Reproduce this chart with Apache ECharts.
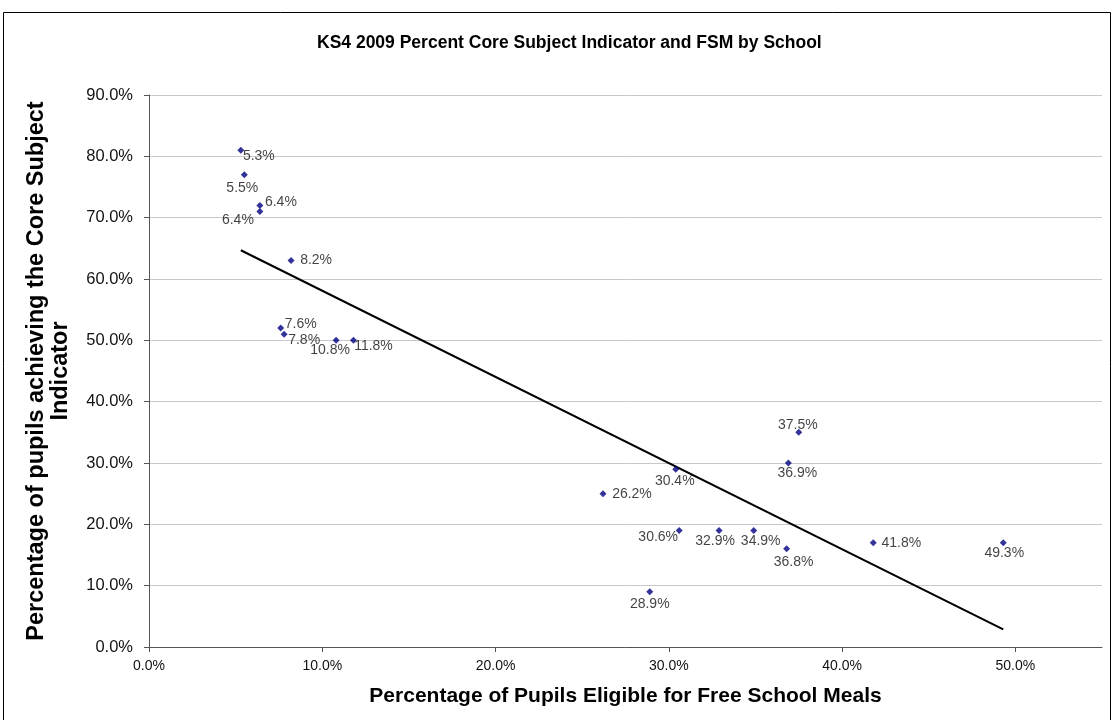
<!DOCTYPE html>
<html>
<head>
<meta charset="utf-8">
<title>KS4 2009 Percent Core Subject Indicator and FSM by School</title>
<script src="https://cdn.jsdelivr.net/npm/echarts@6/dist/echarts.min.js"></script>
<style>
  html, body { margin: 0; padding: 0; background: #fff; }
  #chart { width: 1117px; height: 720px; }
</style>
</head>
<body>
<div id="chart"></div>
<script>
// Percentage of pupils eligible for free school meals (x) per school
const fsmPct = [5.3, 5.5, 6.4, 6.4, 8.2, 7.6, 7.8, 10.8, 11.8, 37.5,
                36.9, 30.4, 26.2, 30.6, 32.9, 34.9, 36.8, 28.9, 41.8, 49.3];
// Percentage of pupils achieving the Core Subject Indicator (y) per school
const csiPct = [81, 77, 72, 71, 63, 52, 51, 50, 50, 35,
                30, 29, 25, 19, 19, 19, 16, 9, 17, 17];
// Where each school's FSM label sits, relative to its marker [dx, dy]
const labelNudge = [[18, 6], [-2, 13], [21, -3], [-22, 9], [25, 0], [20, -4], [20, 6], [-6, 10], [20, 6], [-1, -7],
                    [9, 10], [-1, 12], [29, 0], [-21, 7], [-4, 11], [7, 11], [7, 13], [0, 12], [28, 0], [1, 10]];

const xTitle = 'Percentage of Pupils Eligible for Free School Meals';
const yTitle = 'Percentage of pupils achieving the Core Subject\nIndicator';
const chartTitle = 'KS4 2009 Percent Core Subject Indicator and FSM by School';

// Least-squares linear trend through the school points
function linearFit(xs, ys) {
  const n = xs.length;
  const mx = xs.reduce((a, b) => a + b, 0) / n;
  const my = ys.reduce((a, b) => a + b, 0) / n;
  let sxy = 0, sxx = 0;
  for (let i = 0; i < n; i++) {
    sxy += (xs[i] - mx) * (ys[i] - my);
    sxx += (xs[i] - mx) * (xs[i] - mx);
  }
  const slope = sxy / sxx;
  return { slope, intercept: my - slope * mx };
}
const fit = linearFit(fsmPct, csiPct);
const xLo = Math.min(...fsmPct), xHi = Math.max(...fsmPct);
const trend = [[xLo, fit.intercept + fit.slope * xLo], [xHi, fit.intercept + fit.slope * xHi]];

const points = fsmPct.map((x, i) => [x, csiPct[i]]);

const pct = v => v.toFixed(1) + '%';
const FONT = 'Liberation Sans, Arial, sans-serif';

const chart = echarts.init(document.getElementById('chart'), null, { renderer: 'canvas' });
chart.setOption({
  animation: false,
  backgroundColor: '#ffffff',
  title: {
    text: chartTitle,
    left: 312,
    top: 29,
    textStyle: { fontFamily: FONT, fontSize: 17.5, fontWeight: 'bold', color: '#000' }
  },
  grid: { left: 149, right: 15, top: 95, bottom: 73, containLabel: false },
  xAxis: {
    type: 'value',
    min: 0, max: 55, interval: 10,
    name: xTitle,
    nameLocation: 'middle',
    nameGap: 39,
    nameTextStyle: { fontFamily: FONT, fontSize: 21, fontWeight: 'bold', color: '#000' },
    axisLine: { lineStyle: { color: '#555', width: 1 } },
    axisTick: { show: true, inside: false, length: 5, lineStyle: { color: '#555' } },
    axisLabel: { fontFamily: FONT, fontSize: 14, color: '#111', margin: 12, formatter: pct, showMaxLabel: false },
    splitLine: { show: false }
  },
  yAxis: {
    type: 'value',
    min: 0, max: 90, interval: 10,
    name: yTitle,
    nameLocation: 'middle',
    nameRotate: 90,
    nameGap: 76,
    nameTextStyle: { fontFamily: FONT, fontSize: 23.5, fontWeight: 'bold', color: '#000', lineHeight: 24, align: 'center' },
    axisLine: { show: true, lineStyle: { color: '#555', width: 1 } },
    axisTick: { show: true, inside: false, length: 5, lineStyle: { color: '#555' } },
    axisLabel: { fontFamily: FONT, fontSize: 16.5, color: '#111', margin: 16, formatter: pct },
    splitLine: { show: true, lineStyle: { color: '#c8c8c8', width: 1 } }
  },
  graphic: [{
    type: 'rect',
    shape: { x: 3.5, y: 12.5, width: 1107, height: 720 },
    style: { fill: null, stroke: '#000', lineWidth: 1 },
    silent: true
  }],
  series: [
    {
      type: 'line',
      data: trend,
      showSymbol: false,
      symbol: 'none',
      lineStyle: { color: '#000', width: 2 },
      z: 2,
      silent: true
    },
    {
      type: 'scatter',
      data: points,
      symbol: 'diamond',
      symbolSize: 7,
      itemStyle: { color: '#000080' },
      z: 3,
      label: {
        show: true,
        position: 'inside',
        fontFamily: FONT,
        fontSize: 14,
        color: '#111',
        formatter: p => pct(p.value[0])
      },
      // move each label off its marker
      labelLayout: p => ({ dx: labelNudge[p.dataIndex][0], dy: labelNudge[p.dataIndex][1], hideOverlap: false })
    }
  ]
});
</script>
</body>
</html>
